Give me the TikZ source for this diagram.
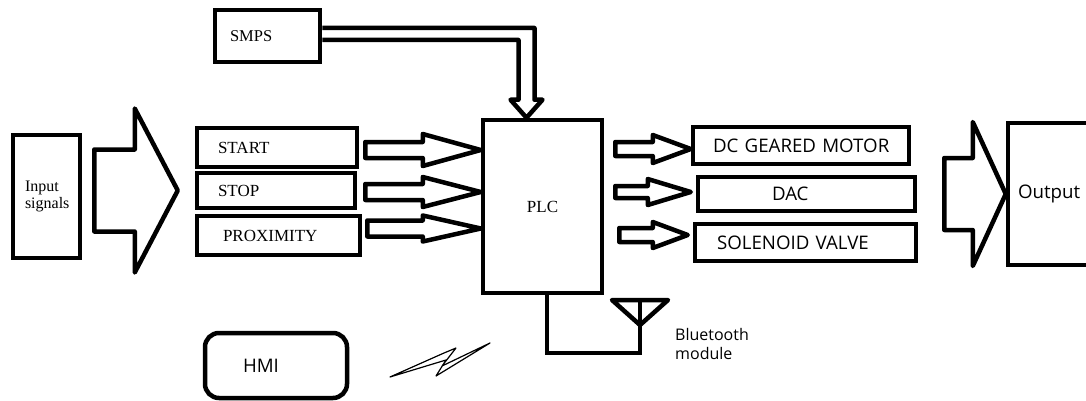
\documentclass[tikz,border=0pt]{standalone}
\usepackage{fontspec}
\setmainfont{Liberation Serif}
\newfontfamily\sansf{Open Sans}
\usetikzlibrary{calc}
% block arrow: start, tip, shaft half, head half, head length
\newcommand{\fatarrow}[5]{%
  \draw[fat] let \p1=#1, \p2=#2 in
    (\x1,\y2+#3) -- (\x2-#5,\y2+#3) -- (\x2-#5,\y2+#4) -- (\p2)
    -- (\x2-#5,\y2-#4) -- (\x2-#5,\y2-#3) -- (\x1,\y2-#3) -- cycle;}
\tikzset{
  blk/.style={draw,line width=4.5pt,align=left,inner ysep=0pt,font=\fontsize{17}{19}\selectfont},
  oblk/.style={blk,font=\sansf\fontsize{18.7}{21}\selectfont},
  fat/.style={line width=4.5pt,line join=round},
  wire/.style={line width=4.5pt},
}
\begin{document}
\begin{tikzpicture}[x=1pt,y=-1pt]
\useasboundingbox (0,0) rectangle (1086,401);
% inputs
\node[blk,text width=43pt,inner xsep=12pt,minimum height=123pt,font=\fontsize{16}{17.5}\selectfont] (input) at (46.5,196.5) {Input\\signals};
\node[blk,text width=75pt,inner xsep=15pt,minimum height=52pt,font=\fontsize{16.5}{19}\selectfont] (smps) at (267.5,36) {SMPS};
\node[blk,text width=118pt,inner xsep=21pt,minimum height=39pt] (start) at (277,147.5) {START};
\node[blk,text width=116pt,inner xsep=21pt,minimum height=35pt] (stop) at (276,190.5) {STOP};
\node[blk,text width=111pt,inner xsep=26pt,minimum height=39pt] (prox) at (278.5,235.5) {PROXIMITY};
% controller
\node[blk,align=center,minimum width=119pt,minimum height=173pt] (plc) at (542.5,206.5) {PLC};
% outputs
\node[oblk,text width=176pt,inner xsep=20pt,minimum height=37pt] (dc) at (801,145.5) {\mbox{DC GEARED MOTOR}};
\node[oblk,text width=69pt,inner xsep=74pt,minimum height=34pt] (dac) at (806.5,194) {DAC};
\node[oblk,text width=177pt,inner xsep=22pt,minimum height=37pt] (sol) at (805.5,242.5) {\mbox{SOLENOID VALVE}};
\node[oblk,text width=120pt,inner xsep=10pt,minimum height=142pt] (out) at (1078,194) {Output};
\node[oblk,rounded corners=14pt,text width=66pt,inner xsep=38pt,minimum height=65pt] (hmi) at (276,365.5) {HMI};
\node[anchor=west,align=left,font=\sansf\fontsize{16}{18.5}\selectfont,inner sep=0pt] (bt) at (675,344) {Bluetooth\\module};
% block arrows
\fatarrow{($(input.east)+(12,0)$)}{($(stop.west)+(-17,0)$)}{41pt}{82pt}{43pt}
\fatarrow{($(start.east)+(6,0)$)}{($(plc.west|-start.east)+(0,2.5)$)}{8pt}{16pt}{58pt}
\fatarrow{($(stop.east)+(8,0)$)}{($(plc.west|-stop.east)+(0,1.5)$)}{8pt}{15pt}{58pt}
\fatarrow{($(prox.east)+(5,0)$)}{($(plc.west|-prox.east)+(0,-7)$)}{8pt}{13pt}{58pt}
\fatarrow{($(plc.east)+(11,0)$)}{($(dc.west)+(0,3.5)$)}{7pt}{14pt}{38pt}
\fatarrow{($(plc.east)+(11,0)$)}{($(dac.west)+(-5,-2)$)}{6pt}{13pt}{43pt}
\fatarrow{($(plc.east)+(15,0)$)}{($(sol.west)+(-5,-7.5)$)}{7pt}{13pt}{35pt}
\fatarrow{($(dac.east)+(27,0)$)}{(out.west)}{36pt}{72pt}{33pt}
% power feed
\draw[fat] let \p1=(smps.east), \p2=($(plc.north)+(-16,0)$) in
  (\x1,\y1+8pt) -| (\x2+8pt,\y2+18pt) -- (\x2+16pt,\y2+18pt) -- (\p2)
  -- (\x2-16pt,\y2+18pt) -- (\x2-8pt,\y2+18pt) |- (\x1,\y1-4pt);
% bluetooth
\coordinate (ant) at (640,300);
\coordinate (antfoot) at (640,353);
\draw[wire] ($(plc.south)+(4.5,0)$) |- (antfoot) -- (ant);
\draw[wire,line join=round] ($(ant)+(-28,0)$) -- ($(ant)+(28,0)$) -- ($(ant)+(0,25)$) -- cycle;
% wireless link
\draw[line width=1.2pt,line join=round] (390,377) -- (444,353) -- (456,348) -- (442,366) -- (490,343) -- (436,376) -- (446,360) -- cycle;
\end{tikzpicture}
\end{document}
